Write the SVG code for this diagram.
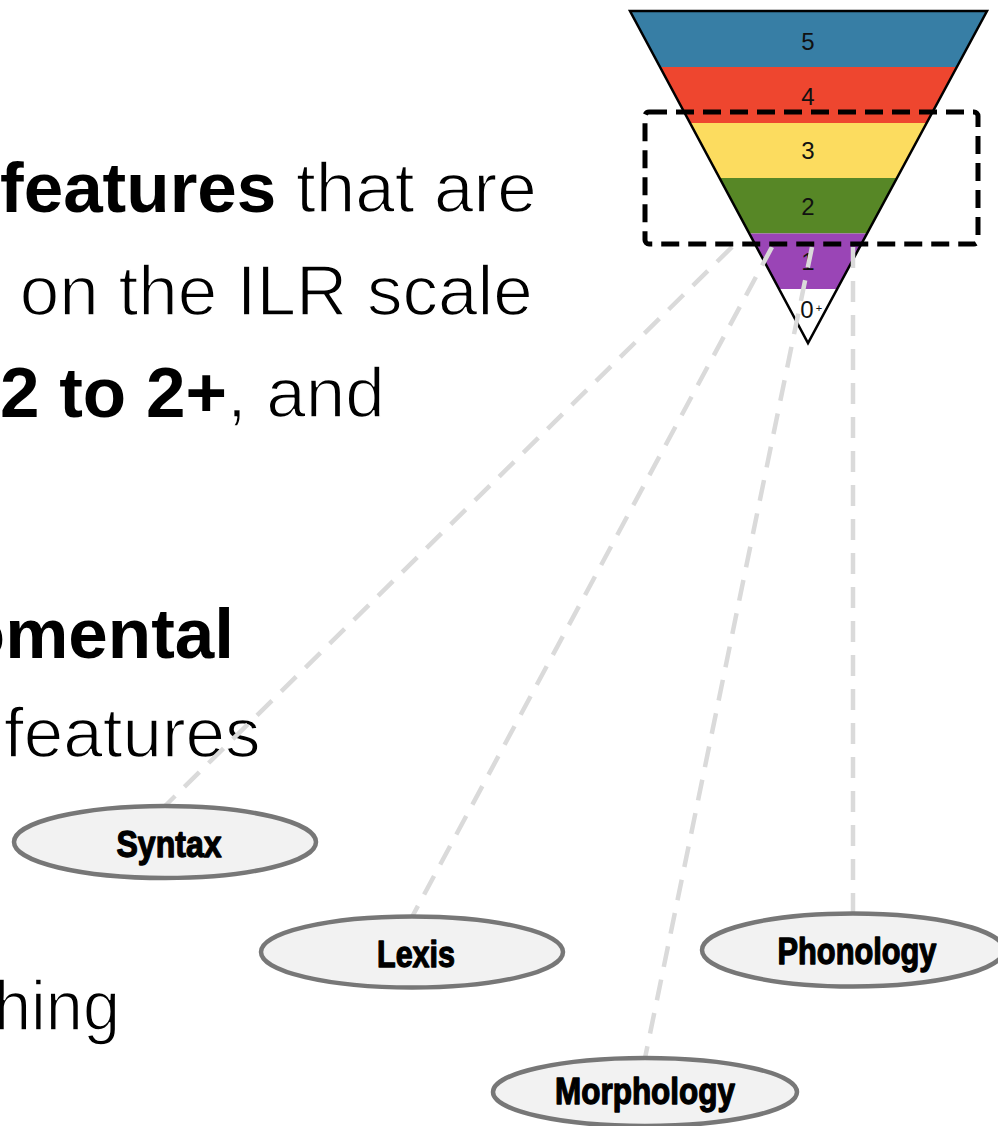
<svg xmlns="http://www.w3.org/2000/svg" width="998" height="1126" viewBox="0 0 998 1126">
  <style>
    .body { font-family: "Liberation Sans", Arial, Helvetica, sans-serif; font-size: 71px; fill: #000; }
    /* regular runs are set a little lighter by trimming the glyph edges */
    .lt { stroke: #fff; stroke-width: 1.5; stroke-linejoin: round; }
    .b { font-weight: bold; stroke: none; }
    .lvl { font-family: "Liberation Sans", Arial, sans-serif; font-size: 24px; fill: #111; text-anchor: middle; }
    .link { fill: none; stroke: #dadada; stroke-width: 4.5; stroke-dasharray: 21 13; }
    .node ellipse { fill: #f2f2f2; stroke: #777; stroke-width: 4.5; }
    .node text { font-family: "Liberation Sans", Arial, sans-serif; font-weight: bold; font-size: 37px; fill: #000; stroke: #000; stroke-width: 1.3; stroke-linejoin: round; text-anchor: middle; }
  </style>
  <defs>
    <clipPath id="tri">
      <polygon points="630,11 987,11 808,343"/>
    </clipPath>
  </defs>

  <rect width="998" height="1126" fill="#fff"/>

  <!-- slide text -->
  <g id="text-block">
    <text class="body lt" x="0" y="212"><tspan class="b">features</tspan> that are</text>
    <text class="body lt" x="0" y="315" xml:space="preserve"> on the ILR scale</text>
    <text class="body lt" x="0" y="417"><tspan class="b">2 to 2+</tspan>, and</text>
    <text class="body b" x="234" y="658" text-anchor="end">omental</text>
    <text class="body lt" x="4" y="757">features</text>
    <text class="body lt" x="-6" y="1030" textLength="126" lengthAdjust="spacingAndGlyphs">hing</text>
  </g>

  <!-- ILR level pyramid -->
  <g id="pyramid">
    <g clip-path="url(#tri)">
      <rect x="628" y="11" width="362" height="56" fill="#377ea5"/>
      <rect x="628" y="67" width="362" height="56" fill="#ee462f"/>
      <rect x="628" y="123" width="362" height="55" fill="#fcdc5f"/>
      <rect x="628" y="178" width="362" height="55.5" fill="#578726"/>
      <rect x="628" y="233.5" width="362" height="55.5" fill="#9a45b6"/>
      <rect x="628" y="289" width="362" height="56" fill="#ffffff"/>
    </g>
    <polygon points="630,11 987,11 808,343" fill="none" stroke="#000" stroke-width="2.5" stroke-linejoin="miter"/>
    <text class="lvl" x="808" y="50">5</text>
    <text class="lvl" x="808" y="105">4</text>
    <text class="lvl" x="808" y="159">3</text>
    <text class="lvl" x="808" y="215">2</text>
    <text class="lvl" x="808" y="270">1</text>
    <text class="lvl" x="807" y="318">0</text>
    <text class="lvl" x="819" y="312" style="font-size:11px">+</text>
  </g>

  <!-- connectors from the highlighted levels to the feature nodes -->
  <g id="connectors">
    <path class="link" d="M732,247 L165,806"/>
    <path class="link" d="M772,247 L412,917"/>
    <path class="link" d="M812,247 L645,1058"/>
    <path class="link" d="M853,247 L853,913"/>
  </g>

  <!-- highlighted range box -->
  <g id="focus-box">
    <rect x="645" y="112" width="333" height="132" rx="4" fill="none" stroke="#000" stroke-width="5" stroke-dasharray="18 9"/>
  </g>

  <g id="node-syntax" class="node">
    <ellipse cx="165" cy="842" rx="151" ry="36"/>
    <text x="169" y="857" textLength="105" lengthAdjust="spacingAndGlyphs">Syntax</text>
  </g>
  <g id="node-lexis" class="node">
    <ellipse cx="412" cy="952" rx="151" ry="35.5"/>
    <text x="416" y="967" textLength="78" lengthAdjust="spacingAndGlyphs">Lexis</text>
  </g>
  <g id="node-phonology" class="node">
    <ellipse cx="853" cy="950" rx="151" ry="36.5"/>
    <text x="857" y="964" textLength="159" lengthAdjust="spacingAndGlyphs">Phonology</text>
  </g>
  <g id="node-morphology" class="node">
    <ellipse cx="645" cy="1092" rx="152" ry="34"/>
    <text x="645" y="1104" textLength="180" lengthAdjust="spacingAndGlyphs">Morphology</text>
  </g>
</svg>
